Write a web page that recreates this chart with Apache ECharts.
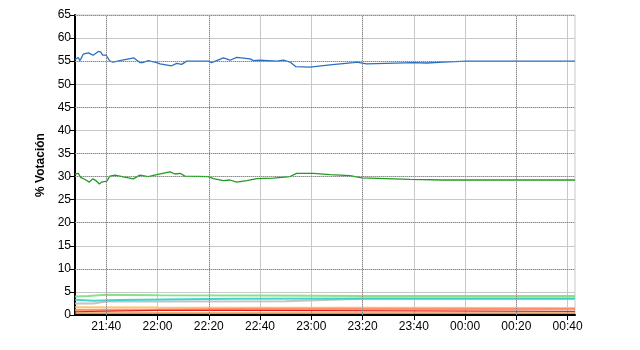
<!DOCTYPE html>
<html>
<head>
<meta charset="utf-8">
<script src="https://cdn.jsdelivr.net/npm/echarts@6/dist/echarts.min.js"></script>
<style>html,body{margin:0;padding:0;background:#fff}#c{width:640px;height:350px}</style>
</head>
<body>
<div id="c"></div>
<script>
// Times are minutes after 21:00
const xMin = 27.8, xMax = 222.9;
const xTicks = [40, 60, 80, 100, 120, 140, 160, 180, 200, 220];
const xDotted = [40, 80, 140, 200];
const yDotted = [65, 55, 45, 35, 30, 20, 10];

const blueT = [27.8,29.1,29.7,31.0,33.0,33.6,34.9,35.6,36.9,37.8,38.6,39.9,41.4,42.7,45.3,50.8,53.1,54.2,56.4,59.7,61.0,65.5,67.5,69.4,71.4,79.8,81.1,85.7,88.3,90.9,96.1,97.4,100.0,106.5,109.1,111.7,114.0,119.5,127.3,136.4,137.7,141.6,159.8,165.0,171.5,180.6,222.9];
const blueV = [55.4,55.8,55.1,56.5,56.8,57.1,56.3,56.3,57.1,57.0,56.3,56.3,55.0,54.8,55.1,55.7,54.7,54.7,55.1,54.7,54.4,54.0,54.5,54.3,55.0,55.0,54.7,55.7,55.2,55.8,55.5,55.1,55.2,55.0,55.2,54.8,53.8,53.7,54.2,54.7,54.8,54.4,54.7,54.6,54.8,55.0,55.0];

const greenT = [27.8,29.1,30.0,32.1,33.4,34.7,36.0,37.3,38.2,40.2,41.4,43.4,50.5,53.1,56.4,59.7,64.9,66.8,68.8,70.7,79.8,81.8,85.7,88.3,90.9,94.8,98.7,105.2,111.7,114.3,120.8,127.3,135.1,139.7,158.5,171.5,222.9];
const greenV = [30.55,30.7,29.8,29.25,28.8,29.5,29.1,28.4,28.8,29.0,30.1,30.3,29.5,30.3,30.0,30.4,31.0,30.55,30.7,30.1,30.0,29.55,29.1,29.25,28.8,29.1,29.55,29.65,30.0,30.7,30.7,30.4,30.2,29.7,29.4,29.25,29.25];

const lgreenT = [27.8,33,40,60,100,140,222.9];
const lgreenV = [4.0,4.1,4.4,4.3,4.2,4.1,4.1];
const cyanT = [27.8,35,45,70,90,140,222.9];
const cyanV = [3.3,3.1,3.25,3.4,3.5,3.6,3.6];
const grayT = [27.8,35,40,60,110,125,140,222.9];
const grayV = [2.5,2.5,2.9,2.9,3.0,3.25,3.5,3.5];
const orangeT = [27.8,60,222.9];
const orangeV = [1.7,1.6,1.5];
const salmonT = [27.8,60,100,222.9];
const salmonV = [1.1,1.2,1.35,1.3];
const redT = [27.8,40,60,90,222.9];
const redV = [0.7,0.85,1.0,1.0,0.8];
const dkorangeT = [27.8,222.9];
const dkorangeV = [0.4,0.4];

function pairs(t, v) { return t.map((x, i) => [x, v[i]]); }
function fmt(m) {
  const tot = Math.round(m) + 21 * 60;
  const h = Math.floor(tot / 60) % 24, mm = tot % 60;
  return String(h).padStart(2, '0') + ':' + String(mm).padStart(2, '0');
}
function line(name, t, v, color, width, opacity) {
  return { name, type: 'line', data: pairs(t, v), symbol: 'none', smooth: false,
    lineStyle: { color, width, opacity: opacity == null ? 1 : opacity }, animation: false, z: 3 };
}

const series = [
  line('gray', grayT, grayV, '#c4c4c4', 2, 1),
  line('lgreen', lgreenT, lgreenV, '#7be07b', 2, 0.9),
  line('cyan', cyanT, cyanV, '#33cccc', 2, 0.9),
  line('orange', orangeT, orangeV, '#ffc060', 2, 0.9),
  line('salmon', salmonT, salmonV, '#ff8866', 2, 0.9),
  line('red', redT, redV, '#e82020', 1.2, 1),
  line('dkorange', dkorangeT, dkorangeV, '#e07000', 1.2, 1),
  line('green', greenT, greenV, '#229922', 1.3, 1),
  line('blue', blueT, blueV, '#2a70c0', 1.3, 1)
];
series.push({
  type: 'line', data: [], silent: true, animation: false,
  markLine: { symbol: 'none', silent: true, animation: false, label: { show: false },
    lineStyle: { type: 'dotted', color: '#8a8a8a', width: 1 },
    data: yDotted.map(y => ({ yAxis: y })).concat(xDotted.map(x => ({ xAxis: x }))) }
});

const chart = echarts.init(document.getElementById('c'), null, { renderer: 'canvas' });
chart.setOption({
  backgroundColor: '#fff',
  animation: false,
  grid: { left: 75, right: 65, top: 15, bottom: 35, show: true, borderColor: '#c8c8c8', borderWidth: 1 },
  xAxis: {
    type: 'value', min: xMin, max: xMax,
    axisLine: { show: true, onZero: false, lineStyle: { color: '#000', width: 2 } },
    axisTick: { show: true, length: 5, customValues: xTicks, lineStyle: { color: '#000' } },
    axisLabel: { customValues: xTicks, formatter: fmt, color: '#000', fontFamily: 'Liberation Sans, Arial', fontSize: 12, margin: 6 },
    splitLine: { show: true, lineStyle: { color: '#c8c8c8', width: 1 } }
  },
  yAxis: {
    type: 'value', min: 0, max: 65, interval: 5,
    name: '% Votación', nameLocation: 'middle', nameGap: 24,
    nameTextStyle: { fontWeight: 'bold', fontSize: 12, color: '#000', fontFamily: 'Liberation Sans, Arial' },
    axisLine: { show: true, lineStyle: { color: '#000', width: 2 } },
    axisTick: { show: true, length: 5, lineStyle: { color: '#000' } },
    axisLabel: { color: '#000', fontFamily: 'Liberation Sans, Arial', fontSize: 12, margin: 4 },
    splitLine: { show: true, lineStyle: { color: '#c8c8c8', width: 1 } }
  },
  series
});
</script>
</body>
</html>
